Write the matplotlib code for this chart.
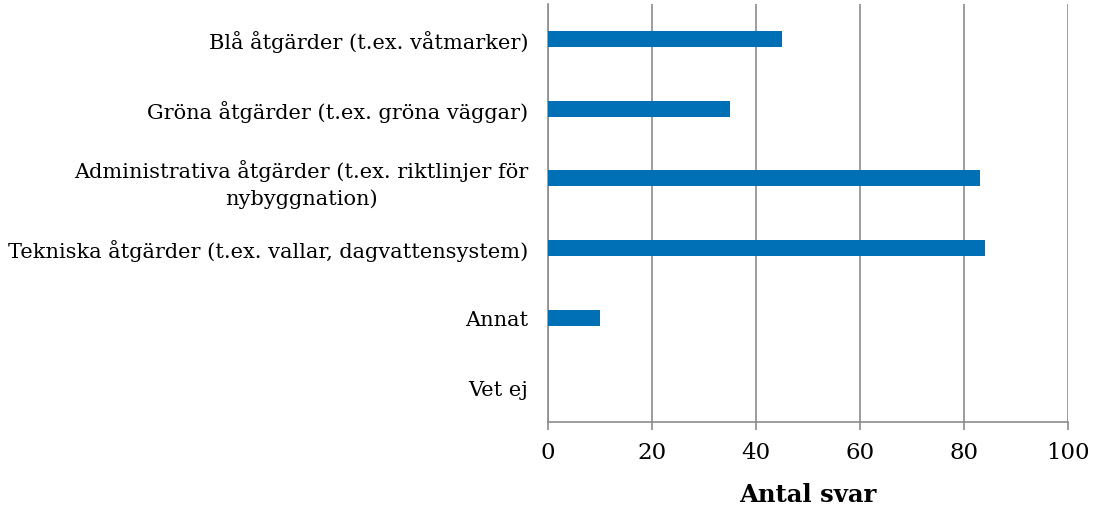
import matplotlib
matplotlib.use("Agg")
import matplotlib.pyplot as plt

categories = [
    "Blå åtgärder (t.ex. våtmarker)",
    "Gröna åtgärder (t.ex. gröna väggar)",
    "Administrativa åtgärder (t.ex. riktlinjer för\nnybyggnation)",
    "Tekniska åtgärder (t.ex. vallar, dagvattensystem)",
    "Annat",
    "Vet ej",
]
values = [45, 35, 83, 84, 10, 0]
x_ticks = [0, 20, 40, 60, 80, 100]

bar_color = "#0070B6"
grid_color = "#8c8c8c"

plt.rcParams["font.family"] = ["DejaVu Serif"]

fig = plt.figure(figsize=(10.96, 5.06), dpi=100)
ax = fig.add_axes([0.5, 0.164, 0.4745, 0.826])

pos = list(range(len(categories)))
ax.barh(pos, values, height=0.23, color=bar_color, zorder=3)
ax.set_ylim(len(categories) - 0.5, -0.5)
ax.set_xlim(0, 100)

ax.set_xticks(x_ticks)
ax.set_xticklabels([str(t) for t in x_ticks], fontsize=16.5)
ax.set_yticks(pos)
ax.set_yticklabels(categories, fontsize=15, multialignment="center",
                   linespacing=1.45)
ax.tick_params(axis="y", length=0, pad=14)
ax.tick_params(axis="x", length=6, color=grid_color, width=1.2, pad=8)

ax.grid(axis="x", color=grid_color, linewidth=1.2, zorder=0)
for side in ["top", "right"]:
    ax.spines[side].set_visible(False)
ax.spines["left"].set_color(grid_color)
ax.spines["bottom"].set_color(grid_color)
ax.spines["left"].set_linewidth(1.2)
ax.spines["bottom"].set_linewidth(1.2)

ax.set_xlabel("Antal svar", fontsize=17.5, fontweight="bold", labelpad=13)

fig.savefig("out.png", dpi=100)
